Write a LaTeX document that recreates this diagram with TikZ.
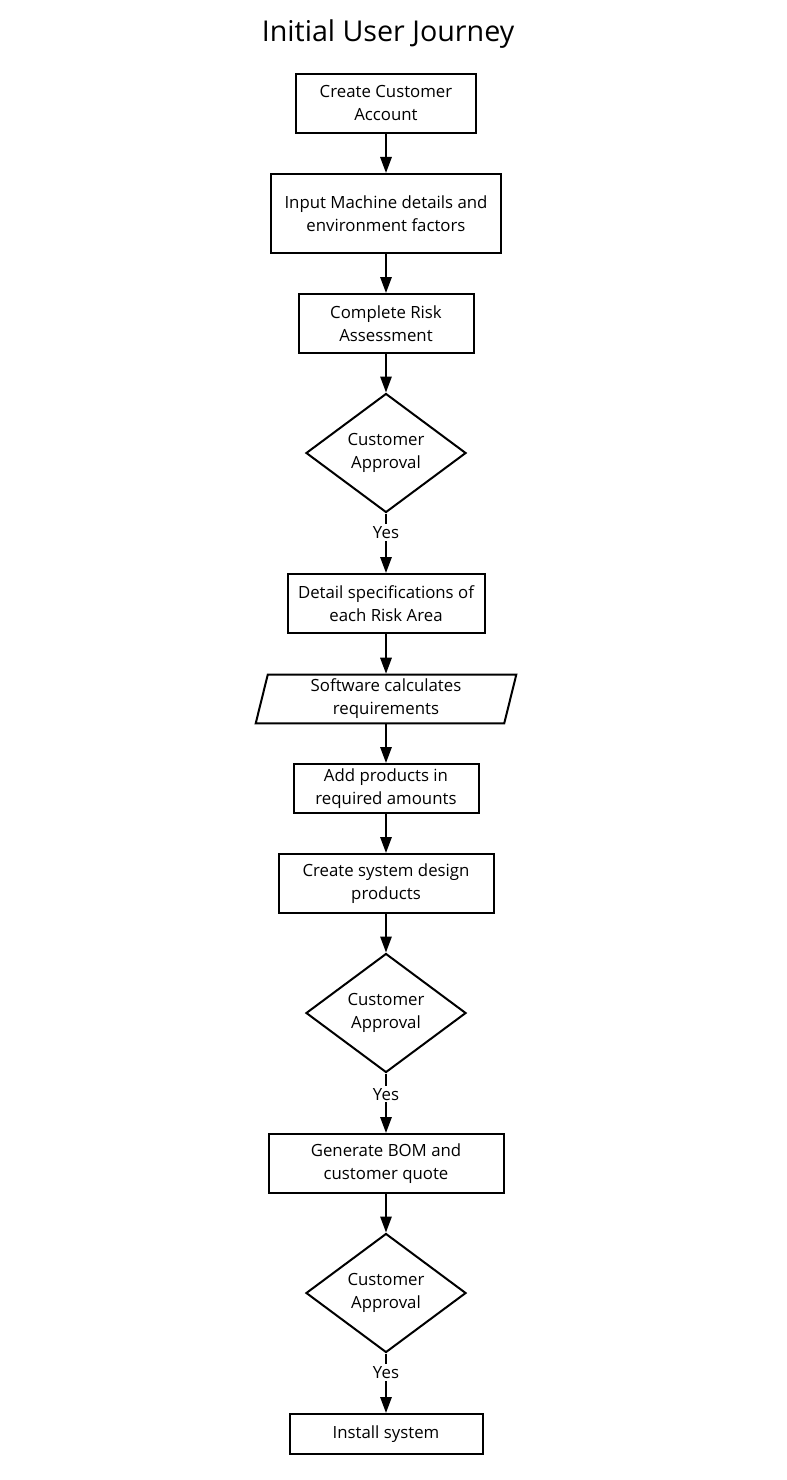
\documentclass[tikz,border=0pt]{standalone}
\usepackage{fontspec}
\setmainfont{Open Sans}
\usetikzlibrary{shapes.geometric,arrows.meta,calc}
\begin{document}
\begin{tikzpicture}[x=0.75pt,y=-0.75pt,
  box/.style={draw=black,line width=1.5pt,rectangle,inner sep=0pt,align=center,
    font=\fontsize{12.6}{17.25}\selectfont,minimum height=44.25pt},
  dia/.style={draw=black,line width=1.5pt,diamond,inner sep=0pt,align=center,
    font=\fontsize{12.6}{17.25}\selectfont,minimum width=120pt,minimum height=89.25pt},
  conn/.style={line width=1.5pt,-{Triangle[width=8.5pt,length=12pt]}},
  yes/.style={fill=white,inner sep=1.5pt,font=\fontsize{12.6}{14}\selectfont}]
\useasboundingbox (0,0) rectangle (787,1480);
\node[font=\fontsize{21.5}{26}\selectfont] (title) at (388,34) {Initial User Journey};
\node[box,minimum width=135pt] (c1) at (386,103.5) {Create Customer\\Account};
\node[box,minimum width=172.5pt,minimum height=59.25pt] (c2) at (386,213.5) {Input Machine details and\\environment factors};
\node[box,minimum width=131.25pt] (c3) at (386,323.5) {Complete Risk\\Assessment};
\node[dia] (d1) at (386,453) {Customer\\Approval};
\node[box,minimum width=147.75pt] (c4) at (386,603.5) {Detail specifications of\\each Risk Area};
\node[rectangle,inner sep=0pt,align=center,font=\fontsize{12.6}{17.25}\selectfont,
  minimum width=186pt,minimum height=37.5pt] (p) at (386,699) {Software calculates\\requirements};
\draw[line width=1.5pt,line join=miter] ($(p.south west)+(-6,-1)$) -- ($(p.south east)+(-6,-1)$)
  -- ($(p.north east)+(6,1)$) -- ($(p.north west)+(6,1)$) -- cycle;
\node[box,minimum width=138.75pt,minimum height=36.75pt] (c5) at (386,788.5) {Add products in\\required amounts};
\node[box,minimum width=161.25pt] (c6) at (386,883.5) {Create system design\\products};
\node[dia] (d2) at (386,1013) {Customer\\Approval};
\node[box,minimum width=176.25pt] (c7) at (386,1163.5) {Generate BOM and\\customer quote};
\node[dia] (d3) at (386,1293) {Customer\\Approval};
\node[box,minimum width=144.75pt,minimum height=30pt] (c8) at (386,1434) {Install system};
\draw[conn] (c1.south) -- (c2.north);
\draw[conn] (c2.south) -- (c3.north);
\draw[conn] (c3.south) -- (d1.north);
\draw[conn] (d1.south) -- node[yes,pos=0.32] {Yes} (c4.north);
\draw[conn] (c4.south) -- (p.north);
\draw[conn] (p.south) -- (c5.north);
\draw[conn] (c5.south) -- (c6.north);
\draw[conn] (c6.south) -- (d2.north);
\draw[conn] (d2.south) -- node[yes,pos=0.35] {Yes} (c7.north);
\draw[conn] (c7.south) -- (d3.north);
\draw[conn] (d3.south) -- node[yes,pos=0.32] {Yes} (c8.north);
\end{tikzpicture}
\end{document}
